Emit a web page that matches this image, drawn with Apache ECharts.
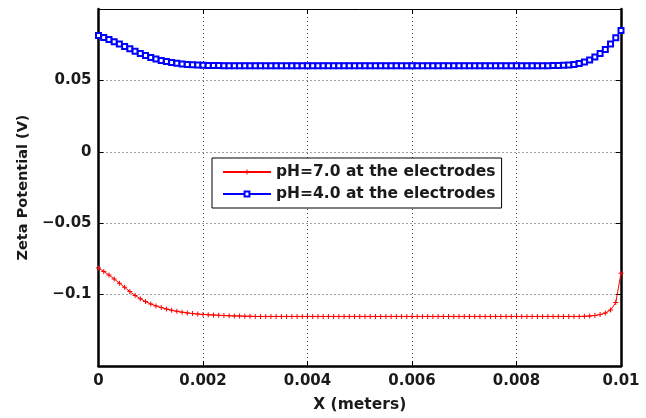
<!DOCTYPE html>
<html>
<head>
<meta charset="utf-8">
<script src="https://cdn.jsdelivr.net/npm/echarts@6/dist/echarts.min.js"></script>
<style>
html,body{margin:0;padding:0;background:#fff;}
#chart{width:646px;height:418px;}
</style>
</head>
<body>
<div id="chart"></div>
<script>
const xMeters = [
  0,0.0001,0.0002,0.0003,0.0004,0.0005,0.0006,0.0007,0.0008,0.0009,
  0.0010,0.0011,0.0012,0.0013,0.0014,0.0015,0.0016,0.0017,0.0018,0.0019,
  0.0020,0.0021,0.0022,0.0023,0.0024,0.0025,0.0026,0.0027,0.0028,0.0029,
  0.0030,0.0031,0.0032,0.0033,0.0034,0.0035,0.0036,0.0037,0.0038,0.0039,
  0.0040,0.0041,0.0042,0.0043,0.0044,0.0045,0.0046,0.0047,0.0048,0.0049,
  0.0050,0.0051,0.0052,0.0053,0.0054,0.0055,0.0056,0.0057,0.0058,0.0059,
  0.0060,0.0061,0.0062,0.0063,0.0064,0.0065,0.0066,0.0067,0.0068,0.0069,
  0.0070,0.0071,0.0072,0.0073,0.0074,0.0075,0.0076,0.0077,0.0078,0.0079,
  0.0080,0.0081,0.0082,0.0083,0.0084,0.0085,0.0086,0.0087,0.0088,0.0089,
  0.0090,0.0091,0.0092,0.0093,0.0094,0.0095,0.0096,0.0097,0.0098,0.0099,
  0.0100
];
const zetaPH7 = [
  -0.0813,-0.0838,-0.0862,-0.0890,-0.0920,-0.0949,-0.0979,-0.1006,-0.1029,-0.1049,
  -0.1065,-0.1079,-0.1091,-0.1101,-0.1110,-0.1117,-0.1123,-0.1128,-0.1133,-0.1136,
  -0.1139,-0.1141,-0.1143,-0.1145,-0.1147,-0.1148,-0.1149,-0.1150,-0.1151,-0.1152,
  -0.1153,-0.1153,-0.1153,-0.1153,-0.1153,-0.1153,-0.1153,-0.1153,-0.1153,-0.1153,
  -0.1153,-0.1153,-0.1153,-0.1153,-0.1153,-0.1153,-0.1153,-0.1153,-0.1153,-0.1153,
  -0.1153,-0.1153,-0.1153,-0.1153,-0.1153,-0.1153,-0.1153,-0.1153,-0.1153,-0.1153,
  -0.1153,-0.1153,-0.1153,-0.1153,-0.1153,-0.1153,-0.1153,-0.1153,-0.1153,-0.1153,
  -0.1153,-0.1153,-0.1153,-0.1153,-0.1153,-0.1153,-0.1153,-0.1153,-0.1153,-0.1153,
  -0.1153,-0.1153,-0.1153,-0.1153,-0.1153,-0.1153,-0.1153,-0.1153,-0.1153,-0.1153,
  -0.1153,-0.1153,-0.1153,-0.1152,-0.1150,-0.1146,-0.1140,-0.1129,-0.1108,-0.1056,
  -0.0850
];
const zetaPH4 = [
  0.0815,0.0800,0.0786,0.0771,0.0755,0.0738,0.0721,0.0704,0.0689,0.0674,
  0.0661,0.0650,0.0640,0.0633,0.0626,0.0620,0.0615,0.0612,0.0609,0.0607,
  0.0606,0.0605,0.0604,0.0604,0.0603,0.0603,0.0603,0.0603,0.0603,0.0603,
  0.0603,0.0603,0.0603,0.0603,0.0603,0.0603,0.0603,0.0603,0.0603,0.0603,
  0.0603,0.0603,0.0603,0.0603,0.0603,0.0603,0.0603,0.0603,0.0603,0.0603,
  0.0603,0.0603,0.0603,0.0603,0.0603,0.0603,0.0603,0.0603,0.0603,0.0603,
  0.0603,0.0603,0.0603,0.0603,0.0603,0.0603,0.0603,0.0603,0.0603,0.0603,
  0.0603,0.0603,0.0603,0.0603,0.0603,0.0603,0.0603,0.0603,0.0603,0.0603,
  0.0603,0.0603,0.0603,0.0603,0.0603,0.0603,0.0603,0.0604,0.0605,0.0606,
  0.0608,0.0612,0.0619,0.0629,0.0643,0.0664,0.0688,0.0716,0.0755,0.0798,
  0.0850
];
const seriesNames = ['pH=7.0 at the electrodes', 'pH=4.0 at the electrodes'];
const xTitle = 'X (meters)';
const yTitle = 'Zeta Potential (V)';

const FONT = '"DejaVu Sans", Verdana, sans-serif';
const TXT = '#1a1a1a';

function pairs(xs, ys) { return xs.map((x, i) => [x, ys[i]]); }
function fmtNum(v) {
  let s = String(+v.toFixed(6));
  return s.replace('-', '\u2212');
}

const chart = echarts.init(document.getElementById('chart'), null, {renderer: 'canvas'});
const gridSplit = {show: true, lineStyle: {color: '#444', type: [1, 3], width: 1}};
const plusPath = 'path://M4,0H6V4H10V6H6V10H4V6H0V4H4Z';

chart.setOption({
  animation: false,
  backgroundColor: '#fff',
  grid: {left: 98.5, right: 25, top: 9, bottom: 52, containLabel: false},
  xAxis: [{
    type: 'value', min: 0, max: 0.01, interval: 0.002, position: 'bottom',
    name: xTitle, nameLocation: 'middle', nameGap: 31,
    nameTextStyle: {fontFamily: FONT, fontWeight: 'bold', fontSize: 15.5, color: TXT},
    axisLine: {show: true, onZero: false, lineStyle: {color: '#000', width: 2.5}},
    axisTick: {show: true, inside: true, length: 5, lineStyle: {color: '#000', width: 1}},
    axisLabel: {margin: 8, fontFamily: FONT, fontWeight: 'bold', fontSize: 15, color: TXT, formatter: fmtNum},
    splitLine: gridSplit
  }, {
    type: 'value', min: 0, max: 0.01, interval: 0.002, position: 'top',
    axisLine: {show: true, onZero: false, lineStyle: {color: '#000', width: 1}},
    axisTick: {show: true, inside: true, length: 5, lineStyle: {color: '#000', width: 1}},
    axisLabel: {show: false}, splitLine: {show: false}
  }],
  yAxis: [{
    type: 'value', min: -0.15, max: 0.1, interval: 0.05, position: 'left',
    name: yTitle, nameLocation: 'middle', nameGap: 67, nameRotate: 90,
    nameTextStyle: {fontFamily: FONT, fontWeight: 'bold', fontSize: 14.5, color: TXT},
    axisLine: {show: true, onZero: false, lineStyle: {color: '#000', width: 2.5}},
    axisTick: {show: true, inside: true, length: 5, lineStyle: {color: '#000', width: 1}},
    axisLabel: {margin: 7, showMinLabel: false, showMaxLabel: false, fontFamily: FONT, fontWeight: 'bold', fontSize: 15, color: TXT, formatter: fmtNum},
    splitLine: gridSplit
  }, {
    type: 'value', min: -0.15, max: 0.1, interval: 0.05, position: 'right',
    axisLine: {show: true, onZero: false, lineStyle: {color: '#000', width: 2.5}},
    axisTick: {show: true, inside: true, length: 5, lineStyle: {color: '#000', width: 1}},
    axisLabel: {show: false}, splitLine: {show: false}
  }],
  legend: {
    left: 212, top: 158, orient: 'vertical',
    padding: [5, 6, 5, 10], itemGap: 4, itemWidth: 48, itemHeight: 6,
    backgroundColor: '#fff', borderColor: '#000', borderWidth: 1, borderRadius: 0,
    textStyle: {fontFamily: FONT, fontWeight: 'bold', fontSize: 15.5, color: TXT, lineHeight: 18},
    data: seriesNames
  },
  series: [{
    name: seriesNames[0], type: 'line', xAxisIndex: 0, yAxisIndex: 0,
    data: pairs(xMeters, zetaPH7),
    showAllSymbol: true, symbol: plusPath, symbolSize: 5,
    lineStyle: {color: '#ff0000', width: 1},
    itemStyle: {color: '#ff0000'}
  }, {
    name: seriesNames[1], type: 'line', xAxisIndex: 0, yAxisIndex: 0,
    data: pairs(xMeters, zetaPH4),
    showAllSymbol: true, symbol: 'emptyRect', symbolSize: 5,
    lineStyle: {color: '#0000ff', width: 1},
    itemStyle: {color: '#0000ff', borderWidth: 1}
  }]
});
</script>
</body>
</html>
